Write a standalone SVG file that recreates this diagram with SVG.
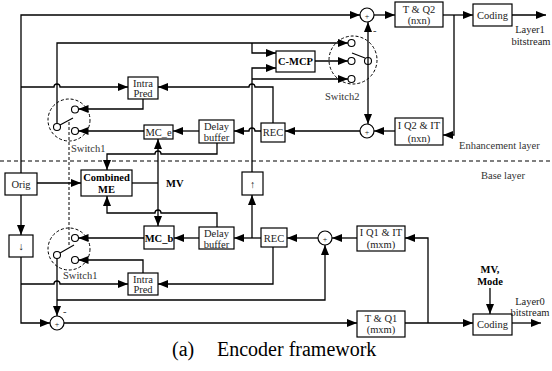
<svg xmlns="http://www.w3.org/2000/svg" width="552" height="371" viewBox="0 0 552 371">
<style>
.b{fill:#fff;stroke:#000;stroke-width:1.2}
.c{fill:none;stroke:#000;stroke-width:1.3}
.a{marker-end:url(#ah)}
.t{font-family:"Liberation Serif",serif;font-size:10.5px;fill:#222;text-anchor:middle}
.tb{font-family:"Liberation Serif",serif;font-size:10.5px;font-weight:bold;fill:#000;text-anchor:middle}
.l{font-family:"Liberation Serif",serif;font-size:10.5px;fill:#333}
.d{fill:none;stroke:#000;stroke-width:1;stroke-dasharray:3,2}
.k{fill:#fff;stroke:#000;stroke-width:1.1}
</style>
<defs>
<marker id="ah" viewBox="0 0 10 8" refX="10" refY="4" markerWidth="10" markerHeight="8" markerUnits="userSpaceOnUse" orient="auto-start-reverse">
<path d="M0,0 L10,4 L0,8 z" fill="#000"/>
</marker>
</defs>
<rect width="552" height="371" fill="#fff"/>
<line x1="0" y1="161" x2="552" y2="161" stroke="#000" stroke-width="1.2" stroke-dasharray="4,3"/>
<g id="connectors">
<path class="c a" d="M21,173 V15 H360"/>
<path class="c a" d="M374,15 H395"/>
<path class="c a" d="M443,15 H473"/>
<path class="c a" d="M512,15 H546"/>
<path class="c a" d="M454,15 V135 H443"/>
<path class="c a" d="M395,131 H374"/>
<path class="c a" d="M360,131 H285"/>
<path class="c a" d="M368,124 V22" style="marker-start:url(#ah)"/>
<path class="c a" d="M261,131 H255 a3,3 0 0 0 -6,0 H234"/>
<path class="c a" d="M199,131 H173"/>
<path class="c a" d="M144,131 H78.5"/>
<path class="c a" d="M143,99 V109 H78.5"/>
<path class="c a" d="M21,87 H54 a3,3 0 0 1 6,0 H128"/>
<path class="c a" d="M273,123 V87 H255 a3,3 0 0 0 -6,0 H158"/>
<path class="c a" d="M57,123.5 V43 H348"/>
<path class="c a" d="M252,43 V53 H276"/>
<path class="c a" d="M315,61 H348"/>
<path class="c a" d="M252,172 V68 H276"/>
<path class="c a" d="M252,79 H348"/>
<path class="c a" d="M217,143 V154 H161 a3,3 0 0 0 -6,0 H107 V170"/>
<path class="c" d="M132,183 H158"/>
<path class="c a" d="M158,183 V139"/>
<path class="c a" d="M158,183 V226"/>
<path class="c a" d="M217,227 V213 H161 a3,3 0 0 0 -6,0 H107 V196"/>
<path class="c a" d="M37,183 H81"/>
<path class="c a" d="M21,195 V235"/>
<path class="c a" d="M21,257 V323 H50"/>
<path class="c a" d="M21,284 H54 a3,3 0 0 1 6,0 H128"/>
<path class="c a" d="M273,247 V284 H158"/>
<path class="c a" d="M143,273 V260 H78.5"/>
<path class="c a" d="M199,238 H174"/>
<path class="c a" d="M144,238 H78.5"/>
<path class="c a" d="M261,238 H234"/>
<path class="c a" d="M252,238 V195"/>
<path class="c a" d="M318,238 H287"/>
<path class="c a" d="M357,238 H332"/>
<path class="c a" d="M57,258.5 V316"/>
<path class="c a" d="M57,300 H325 V245"/>
<path class="c a" d="M64,323 H357"/>
<path class="c a" d="M405,323 H473"/>
<path class="c a" d="M428,323 V238 H405"/>
<path class="c a" d="M512,323 H541"/>
<path class="c a" d="M490,288 V314"/>
<line class="d" x1="69" y1="122" x2="69" y2="246"/>
</g>
<g id="adder1"><circle class="b" cx="367" cy="15" r="7"/><text class="t" x="367" y="18.5" style="font-size:8px">+</text></g>
<g id="adder2"><circle class="b" cx="367" cy="131" r="7"/><text class="t" x="367" y="134.5" style="font-size:8px">+</text></g>
<g id="adder3"><circle class="b" cx="325" cy="238" r="7"/><text class="t" x="325" y="241.5" style="font-size:8px">+</text></g>
<g id="adder4"><circle class="b" cx="57" cy="323" r="7"/><text class="t" x="57" y="326.5" style="font-size:8px">+</text></g>
<text class="l" x="373" y="34">-</text>
<text class="l" x="63" y="315">-</text>
<g id="tq2"><rect class="b" x="395" y="2" width="48" height="25"/><text class="t" x="419" y="12.5">T &amp; Q2</text><text class="t" x="419" y="24">(nxn)</text></g>
<g id="coding1"><rect class="b" x="473" y="4" width="39" height="22"/><text class="t" x="492.5" y="18.5">Coding</text></g>
<text class="t" x="530" y="33">Layer1</text>
<text class="t" x="531" y="45">bitstream</text>
<g id="iq2"><rect class="b" x="395" y="118" width="48" height="27"/><text class="t" x="419" y="129">I Q2 &amp; IT</text><text class="t" x="419" y="141.5">(nxn)</text></g>
<g id="cmcp"><rect class="b" x="276" y="51" width="39" height="21"/><text class="tb" x="295.5" y="65">C-MCP</text></g>
<g id="switch2">
<circle class="d" cx="353" cy="60" r="24"/>
<circle class="k" cx="351.5" cy="43" r="3.5"/>
<circle class="k" cx="351.5" cy="61" r="3.5"/>
<circle class="k" cx="351.5" cy="79" r="3.5"/>
<circle cx="368" cy="61" r="3.5" fill="none" stroke="#000" stroke-width="1.1"/>
<line x1="365" y1="58" x2="352" y2="53" stroke="#000" stroke-width="1.1"/>
<text class="l" x="325" y="100">Switch2</text>
</g>
<g id="rec-e"><rect class="b" x="261" y="123" width="24" height="19"/><text class="t" x="273" y="136">REC</text></g>
<g id="delay-e"><rect class="b" x="199" y="120" width="35" height="23"/><text class="t" x="216.5" y="130">Delay</text><text class="t" x="216.5" y="141">buffer</text></g>
<g id="mce"><rect class="b" x="144" y="125" width="29" height="14"/><text class="t" x="158.5" y="135.5">MC_e</text></g>
<g id="intra-e"><rect class="b" x="128" y="77" width="30" height="22"/><text class="t" x="143" y="86.5">Intra</text><text class="t" x="143" y="97">Pred</text></g>
<g id="switch1-e">
<circle class="d" cx="69" cy="120" r="21"/>
<circle class="k" cx="75" cy="109.5" r="3.5"/>
<circle class="k" cx="75" cy="131" r="3.5"/>
<circle class="k" cx="57" cy="127" r="3.5"/>
<line x1="60" y1="125" x2="73" y2="118" stroke="#000" stroke-width="1.1"/>
<text class="l" x="71" y="152">Switch1</text>
</g>
<text class="l" x="459" y="149">Enhancement layer</text>
<text class="l" x="481" y="179">Base layer</text>
<g id="orig"><rect class="b" x="5" y="173" width="32" height="22"/><text class="t" x="21" y="187.5">Orig</text></g>
<g id="me"><rect class="b" x="81" y="170" width="51" height="26"/><text class="tb" x="106.5" y="181">Combined</text><text class="tb" x="106.5" y="193">ME</text></g>
<text class="tb" x="166" y="187" style="text-anchor:start">MV</text>
<g id="up"><rect class="b" x="242" y="172" width="21" height="23"/><text class="t" x="252.5" y="187.5">↑</text></g>
<g id="down"><rect class="b" x="9" y="235" width="24" height="22"/><text class="t" x="21" y="250">↓</text></g>
<g id="mcb"><rect class="b" x="144" y="226" width="30" height="23"/><text class="tb" x="159" y="241.5">MC_b</text></g>
<g id="delay-b"><rect class="b" x="199" y="227" width="35" height="22"/><text class="t" x="216.5" y="237">Delay</text><text class="t" x="216.5" y="247.5">buffer</text></g>
<g id="rec-b"><rect class="b" x="261" y="228" width="26" height="19"/><text class="t" x="274" y="241.5">REC</text></g>
<g id="iq1"><rect class="b" x="357" y="226" width="48" height="25"/><text class="t" x="381" y="236">I Q1 &amp; IT</text><text class="t" x="381" y="248">(mxm)</text></g>
<g id="intra-b"><rect class="b" x="128" y="273" width="30" height="22"/><text class="t" x="143" y="282.5">Intra</text><text class="t" x="143" y="293">Pred</text></g>
<g id="switch1-b">
<circle class="d" cx="69" cy="249" r="21"/>
<circle class="k" cx="75" cy="238" r="3.5"/>
<circle class="k" cx="75" cy="260" r="3.5"/>
<circle class="k" cx="57" cy="255" r="3.5"/>
<line x1="60" y1="253" x2="74" y2="245" stroke="#000" stroke-width="1.1"/>
<text class="l" x="63" y="279">Switch1</text>
</g>
<g id="tq1"><rect class="b" x="357" y="311" width="48" height="26"/><text class="t" x="381" y="321.5">T &amp; Q1</text><text class="t" x="381" y="333">(mxm)</text></g>
<g id="coding0"><rect class="b" x="473" y="314" width="39" height="21"/><text class="t" x="492.5" y="328">Coding</text></g>
<text class="tb" x="490" y="273">MV,</text>
<text class="tb" x="490" y="285">Mode</text>
<text class="t" x="530" y="305">Layer0</text>
<text class="t" x="530" y="316">bitstream</text>
<text x="172" y="356" style="font-family:'Liberation Serif',serif;font-size:20px;fill:#000">(a)</text>
<text x="217" y="356" style="font-family:'Liberation Serif',serif;font-size:20px;fill:#000">Encoder framework</text>
</svg>
